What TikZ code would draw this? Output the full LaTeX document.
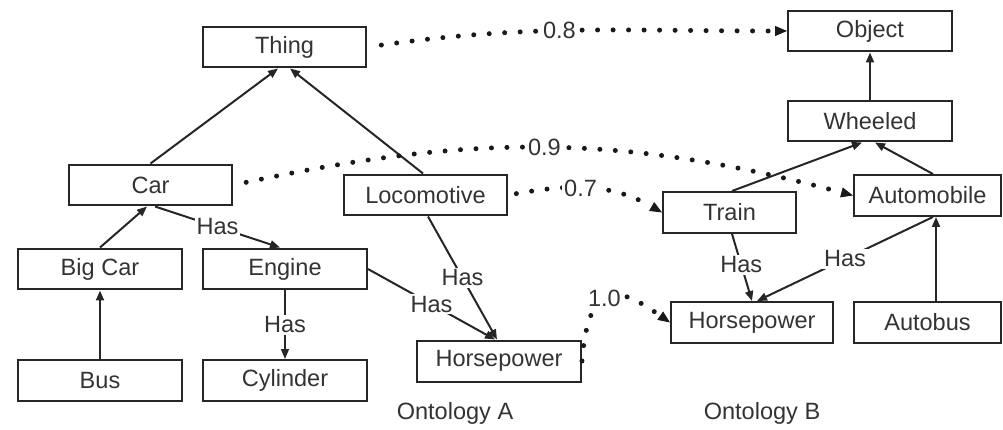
\documentclass[tikz,border=0pt]{standalone}
\usepackage{fontspec}
\setmainfont{Liberation Sans}
\usetikzlibrary{arrows.meta}

\begin{document}
\begin{tikzpicture}[x=0.02cm,y=-0.02cm,
	font=\fontsize{13.4}{16}\selectfont,
	box/.style={draw=black!85,line width=0.04cm,minimum width=3.28cm,minimum height=0.82cm,inner sep=0pt,text=black!80},
	isa/.style={draw=black!85,line width=0.04cm,-{Triangle[length=0.2cm,width=0.16cm]}},
	lbl/.style={fill=white,inner sep=1pt,text=black!80},
	match/.style={draw=black!90,line width=0.1cm,line cap=round,dash pattern=on 0pt off 0.31cm,-{Triangle[length=0.24cm,width=0.2cm,line width=0.02cm]}}]
\useasboundingbox (0,0) rectangle (1003,429);
\node[box] (thing) at (284.5,47) {Thing};
\node[box] (car) at (150.5,185) {Car};
\node[box] (loco) at (425.5,195) {Locomotive};
\node[box] (bigcar) at (100,269) {Big Car};
\node[box] (engine) at (285,269) {Engine};
\node[box] (bus) at (100,380.5) {Bus};
\node[box] (cyl) at (285,380.5) {Cylinder};
\node[box] (hpa) at (499,361) {Horsepower};
\node[box] (object) at (870,31) {Object};
\node[box] (wheeled) at (870,121) {Wheeled};
\node[box,minimum width=2.66cm] (train) at (729.5,212.5) {Train};
\node[box,minimum width=2.94cm] (auto) at (927.5,195.5) {Automobile};
\node[box,minimum width=3.24cm] (hpb) at (752,322.5) {Horsepower};
\node[box,minimum width=2.94cm] (autobus) at (927.5,322.5) {Autobus};
\node[text=black!80] (onta) at (455,413) {Ontology A};
\node[text=black!80] (ontb) at (762,413) {Ontology B};
\draw[isa] (car.north) -- ([xshift=-0.13cm]thing.south);
\draw[isa] ([xshift=-0.05cm]loco.north) -- ([xshift=0.11cm]thing.south);
\draw[isa] (bigcar.north) -- ([xshift=-0.07cm]car.south);
\draw[isa] (bus.north) -- (bigcar.south);
\draw[isa] ([xshift=0.09cm]car.south) -- node[lbl]{Has} ([xshift=-0.1cm]engine.north);
\draw[isa,line width=0.03cm] (engine.south) -- node[lbl]{Has} (cyl.north);
\draw[isa] (engine.east) -- node[lbl]{Has} ([xshift=-0.08cm]hpa.north);
\draw[isa] ([xshift=0.05cm]loco.south) -- node[lbl]{Has} ([xshift=-0.04cm]hpa.north);
\draw[isa] (wheeled.north) -- (object.south);
\draw[isa] ([xshift=0.05cm]train.north) -- ([xshift=-0.16cm]wheeled.south);
\draw[isa] ([xshift=0.11cm]auto.north) -- ([xshift=0.1cm]wheeled.south);
\draw[isa] ([xshift=0.05cm]train.south) -- node[lbl,pos=0.46]{Has} (hpb.north);
\draw[isa] ([xshift=0.11cm]auto.south) -- node[lbl]{Has} ([xshift=0.1cm]hpb.north);
\draw[isa] ([xshift=0.17cm]autobus.north) -- ([xshift=0.17cm]auto.south);
\draw[match,shorten <=0.28cm] (thing.east) to[out=8,in=180] node[lbl,pos=0.455]{0.8} (object.west);
\draw[match,shorten <=0.26cm] (car.east) to[out=12,in=165] node[lbl,pos=0.5]{0.9} (auto.west);
\draw[match,shorten <=0.16cm] (loco.east) to[out=10,in=150] node[lbl,pos=0.45]{0.7} (train.west);
\draw[match] (hpa.east) .. controls +(7,-90) and +(-46,-32) .. node[lbl,pos=0.42]{1.0} (hpb.west);
\end{tikzpicture}
\end{document}
